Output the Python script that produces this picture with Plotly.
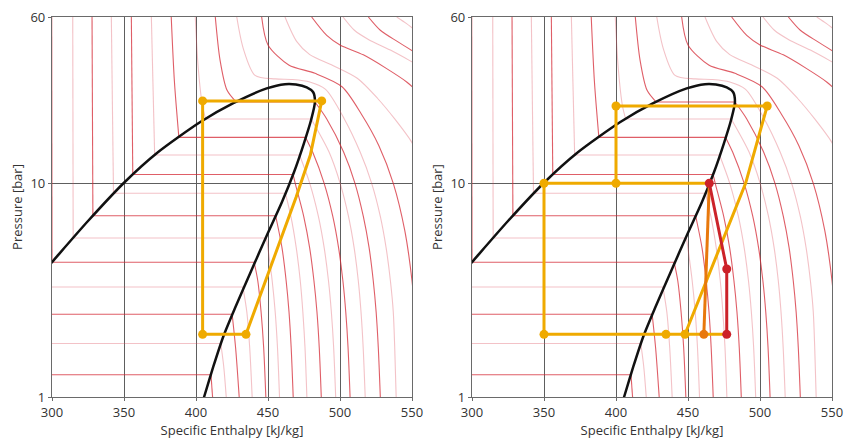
import plotly.graph_objects as go
from plotly.subplots import make_subplots

# ---------------- data ----------------
# saturation dome (liquid side -> critical point -> vapour side)
dome_h = [284.7, 300.0, 325.0, 350.0, 372.9, 403.0, 425.9, 449.1, 461.8,
          469.4, 476.9, 481.3, 482.6, 479.9, 475.0, 468.1, 459.7, 449.0, 438.6, 427.1, 419.1, 412.0, 405.6, 403.5]
dome_p = [3.26, 4.28, 6.66, 10.06, 13.86, 19.35, 23.7, 27.8, 29.1,
          29.0, 28.12, 26.74, 24.01, 19.78, 15.43, 11.29, 8.17, 5.667, 3.929, 2.609, 1.93, 1.386, 1.0, 0.9]

# isotherms: liquid branch, then vapour / supercritical branch
iso_liq_h = [
    [280], [280], [280], [280],
    [299.8, 300.0], [314.4, 314.7], [327.8, 328.4], [341.2, 342.7], [355.1, 356.1],
    [369.0, 371.3], [382.8, 385.0, 388.1], [399.5, 401.5, 404.5, 406.7],
    [413.4, 416.7, 421.5, 427.9],
    [], [], [], [], [], [], [],
]
iso_liq_p = [
    [1.27], [1.78], [2.44], [3.27],
    [60, 4.27], [60, 5.55], [60, 7.05], [60, 8.98], [60, 11.0],
    [60, 13.56], [60, 30, 16.4], [60, 35, 23, 20.0],
    [60, 37.7, 27.3, 24.0],
    [], [], [], [], [], [], [],
]
iso_vap_h = [
    [410.4, 411.5],
    [417.2, 419.2, 421.0],
    [425.1, 427.5, 430.0],
    [432.6, 435.3, 437.3, 439.0],
    [440.4, 442.9, 445.2, 447.0, 448.5],
    [448.9, 449.9, 452.9, 455.0, 456.6, 458.0],
    [455.3, 459.7, 462.6, 464.6, 466.1, 467.5],
    [462.1, 465.9, 469.6, 472.4, 474.2, 475.7, 477.0],
    [467.4, 468.9, 474.8, 478.9, 481.9, 484.0, 485.6, 487.0],
    [471.9, 479.0, 485.0, 489.0, 492.0, 494.0, 495.6, 497.0],
    [476.1, 481.0, 489.0, 495.0, 499.0, 502.0, 504.0, 505.6, 507.0],
    [480.0, 492.4, 500.1, 505.9, 509.8, 512.7, 514.6, 516.1, 517.5],
    [482.6, 490.8, 502.5, 510.4, 516.2, 520.2, 523.1, 525.1, 526.6, 528.0],
    [428.3, 432.8, 441.0, 455.0, 467.0, 479.0, 490.0, 503.0, 514.0, 522.0, 528.0, 532.0, 535.0, 537.0, 538.0, 539.0],
    [445.6, 450.0, 464.4, 482.6, 501.4, 515.0, 527.0, 537.0, 545.0, 550.0, 553.0],
    [461.8, 470.0, 479.0, 495.0, 512.0, 526.0, 538.0, 550.0, 558.0],
    [480.3, 490.8, 500.0, 516.2, 532.4, 546.3, 556.0],
    [502.1, 510.0, 520.0, 535.0, 550.0, 558.0],
    [519.7, 528.0, 540.0, 552.0],
    [539.4, 546.0, 553.0],
]
iso_vap_p = [
    [1.27, 1.0],
    [1.78, 1.4, 1.0],
    [2.44, 1.7, 1.0],
    [3.27, 2.5, 1.7, 1.0],
    [4.27, 3.5, 2.5, 1.7, 1.0],
    [5.55, 5, 3.5, 2.5, 1.7, 1.0],
    [7.05, 5, 3.5, 2.5, 1.7, 1.0],
    [8.98, 7, 5, 3.5, 2.5, 1.7, 1.0],
    [11.0, 10, 7, 5, 3.5, 2.5, 1.7, 1.0],
    [13.56, 10, 7, 5, 3.5, 2.5, 1.7, 1.0],
    [16.4, 14, 10, 7, 5, 3.5, 2.5, 1.7, 1.0],
    [20.0, 14, 10, 7, 5, 3.5, 2.5, 1.7, 1.0],
    [24.0, 20, 14, 10, 7, 5, 3.5, 2.5, 1.7, 1.0],
    [60, 42.8, 32, 30.8, 30.6, 29.8, 27.5, 20, 14, 10, 7, 5, 3.5, 2.5, 1.7, 1.0],
    [60, 44.4, 35.8, 32.7, 28.3, 21, 15, 10, 6, 3.5, 2],
    [60, 46, 40, 35.6, 31, 25, 20, 15.5, 12],
    [60, 49.2, 44.4, 39.9, 34.4, 29.8, 26],
    [60, 52, 47, 42, 37, 34.5],
    [60, 52, 46, 41],
    [60, 56, 51.5],
]
iso_shade = ["dark", "light"] * 10

# left cycle
cyc1_h = [404.6, 404.6, 487.3, 483.8, 479.4, 469.5, 434.7, 404.6]
cyc1_p = [1.965, 24.3, 24.3, 18.7, 13.56, 8.6, 1.965, 1.965]
cyc1_mark_h = [404.6, 487.3, 434.7, 404.6]
cyc1_mark_p = [24.3, 24.3, 1.965, 1.965]

# right cycle (two-stage)
cyc2_a_h = [400, 400, 505, 490, 447.9]
cyc2_a_p = [10, 23, 23, 10, 1.965]
cyc2_b_h = [350, 464.8]
cyc2_b_p = [10, 10]
cyc2_c_h = [350, 350, 476.9]
cyc2_c_p = [10, 1.965, 1.965]
cyc2_mark_h = [400, 505, 350, 400, 350, 434.7, 447.9]
cyc2_mark_p = [23, 23, 10, 10, 1.965, 1.965, 1.965]
orange_h = [464.8, 461.0]
orange_p = [10, 1.965]
red_h = [464.8, 476.9, 476.9]
red_p = [10, 3.97, 1.965]

x_ticks = [300, 350, 400, 450, 500, 550]
y_ticks = [1, 10, 60]

# ---------------- styles ----------------
YELLOW = "#EFAA00"
ORANGE = "#E8780C"
RED = "#CC2229"
SHADES = {"dark": dict(color="rgba(212,40,52,0.75)", width=1.1),
          "light": dict(color="rgba(220,70,85,0.33)", width=1.1)}

fig = make_subplots(rows=1, cols=2, horizontal_spacing=60 / 780)


def iso_traces():
    data = {"dark": ([], []), "light": ([], [])}
    for lh, lp, vh, vp, sh in zip(iso_liq_h, iso_liq_p, iso_vap_h, iso_vap_p, iso_shade):
        hs, ps = data[sh]
        if lh:
            if len(lh) > 1:
                hs.extend(lh + [None]); ps.extend(lp + [None])
            hs.extend([lh[-1], vh[0], None]); ps.extend([lp[-1], vp[0], None])
        hs.extend(vh + [None]); ps.extend(vp + [None])
    out = []
    for sh in ("light", "dark"):
        hs, ps = data[sh]
        out.append(go.Scatter(x=hs, y=ps, mode="lines",
                              line=dict(shape="spline", smoothing=0.8, **SHADES[sh]),
                              hoverinfo="skip", connectgaps=False))
    return out


for col in (1, 2):
    for tr in iso_traces():
        fig.add_trace(tr, row=1, col=col)
    fig.add_trace(go.Scatter(x=dome_h, y=dome_p, mode="lines",
                             line=dict(color="#111111", width=2.5, shape="spline", smoothing=0.7)),
                  row=1, col=col)

# left cycle
fig.add_trace(go.Scatter(x=cyc1_h, y=cyc1_p, mode="lines", line=dict(color=YELLOW, width=3)), row=1, col=1)
fig.add_trace(go.Scatter(x=cyc1_mark_h, y=cyc1_mark_p, mode="markers",
                         marker=dict(color=YELLOW, size=9)), row=1, col=1)

# right cycle
for hh, pp in ((cyc2_a_h, cyc2_a_p), (cyc2_b_h, cyc2_b_p), (cyc2_c_h, cyc2_c_p)):
    fig.add_trace(go.Scatter(x=hh, y=pp, mode="lines", line=dict(color=YELLOW, width=3)), row=1, col=2)
fig.add_trace(go.Scatter(x=cyc2_mark_h, y=cyc2_mark_p, mode="markers",
                         marker=dict(color=YELLOW, size=9)), row=1, col=2)
fig.add_trace(go.Scatter(x=orange_h, y=orange_p, mode="lines", line=dict(color=ORANGE, width=3)), row=1, col=2)
fig.add_trace(go.Scatter(x=orange_h[1:], y=orange_p[1:], mode="markers",
                         marker=dict(color=ORANGE, size=9)), row=1, col=2)
fig.add_trace(go.Scatter(x=red_h, y=red_p, mode="lines+markers", line=dict(color=RED, width=3),
                         marker=dict(color=RED, size=9)), row=1, col=2)

axis_font = dict(family="Open Sans, Noto Sans, sans-serif", size=13, color="#333333")
for col in (1, 2):
    fig.update_xaxes(range=[300, 550], tickvals=x_ticks, ticktext=[str(v) for v in x_ticks],
                     showgrid=True, gridcolor="#5e5e5e", gridwidth=1,
                     showline=True, mirror=True, linecolor="#6a6a6a", linewidth=1.2,
                     ticks="outside", ticklen=3, tickcolor="#6a6a6a",
                     zeroline=False, tickfont=axis_font, automargin=False,
                     title=dict(text="Specific Enthalpy [kJ/kg]", font=axis_font, standoff=6),
                     row=1, col=col)
    fig.update_yaxes(type="log", range=[0, 1.77815], tickvals=y_ticks, ticktext=[str(v) for v in y_ticks],
                     showgrid=True, gridcolor="#5e5e5e", gridwidth=1,
                     showline=True, mirror=True, linecolor="#6a6a6a", linewidth=1.2,
                     ticks="outside", ticklen=3, tickcolor="#6a6a6a",
                     zeroline=False, tickfont=axis_font, automargin=False,
                     title=dict(text="Pressure [bar]", font=axis_font, standoff=4),
                     row=1, col=col)

fig.update_layout(width=846, height=447, margin=dict(l=52, r=14, t=17, b=50),
                  paper_bgcolor="white", plot_bgcolor="white", showlegend=False)

fig.write_html("out.html")
